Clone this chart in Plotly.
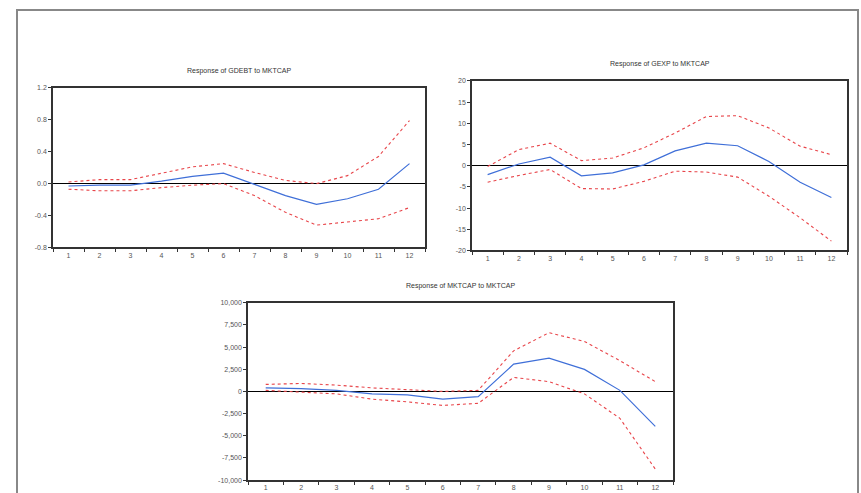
import plotly.graph_objects as go

periods = list(range(1, 13))

# Response of GDEBT to MKTCAP
gdebt_resp = [-0.03, -0.02, -0.02, 0.03, 0.09, 0.13, -0.01, -0.15, -0.26, -0.19, -0.07, 0.25]
gdebt_upper = [0.02, 0.05, 0.05, 0.13, 0.21, 0.25, 0.14, 0.04, 0.0, 0.10, 0.34, 0.79]
gdebt_lower = [-0.07, -0.09, -0.09, -0.05, -0.02, 0.0, -0.15, -0.36, -0.52, -0.48, -0.44, -0.30]

# Response of GEXP to MKTCAP
gexp_resp = [-2.1, 0.4, 2.0, -2.4, -1.7, 0.2, 3.5, 5.3, 4.7, 1.0, -3.9, -7.5]
gexp_upper = [-0.2, 3.8, 5.3, 1.2, 1.8, 4.2, 7.7, 11.6, 11.8, 8.9, 4.6, 2.6]
gexp_lower = [-3.9, -2.3, -0.9, -5.4, -5.5, -3.7, -1.3, -1.5, -2.7, -7.2, -12.3, -17.8]

# Response of MKTCAP to MKTCAP
mkt_resp = [400, 320, 120, -280, -400, -870, -590, 3070, 3740, 2480, 120, -3940]
mkt_upper = [790, 900, 710, 400, 200, 0, 120, 4570, 6620, 5630, 3470, 1100]
mkt_lower = [120, -80, -280, -870, -1180, -1580, -1340, 1580, 1100, -280, -3030, -8750]

titles = ["Response of GDEBT to MKTCAP", "Response of GEXP to MKTCAP", "Response of MKTCAP to MKTCAP"]

gdebt_ticks = [-0.8, -0.4, 0.0, 0.4, 0.8, 1.2]
gdebt_ticktext = ["-0.8", "-0.4", "0.0", "0.4", "0.8", "1.2"]
gexp_ticks = [-20, -15, -10, -5, 0, 5, 10, 15, 20]
gexp_ticktext = ["-20", "-15", "-10", "-5", "0", "5", "10", "15", "20"]
mkt_ticks = [-10000, -7500, -5000, -2500, 0, 2500, 5000, 7500, 10000]
mkt_ticktext = ["-10,000", "-7,500", "-5,000", "-2,500", "0", "2,500", "5,000", "7,500", "10,000"]

W, H = 861, 493
BLUE = "#3f6fd8"
RED = "#e8454a"

panels = [
    dict(resp=gdebt_resp, up=gdebt_upper, lo=gdebt_lower, ticks=gdebt_ticks, ttext=gdebt_ticktext,
         rng=[-0.8, 1.2], box=(53, 425, 85, 247), title=titles[0]),
    dict(resp=gexp_resp, up=gexp_upper, lo=gexp_lower, ticks=gexp_ticks, ttext=gexp_ticktext,
         rng=[-20, 20], box=(472, 847, 78, 250), title=titles[1]),
    dict(resp=mkt_resp, up=mkt_upper, lo=mkt_lower, ticks=mkt_ticks, ttext=mkt_ticktext,
         rng=[-10000, 10000], box=(248, 673, 303, 483), title=titles[2]),
]

fig = go.Figure()
layout = dict(
    width=W, height=H,
    margin=dict(l=0, r=0, t=0, b=0),
    paper_bgcolor="white", plot_bgcolor="white",
    showlegend=False,
    font=dict(family="Liberation Sans, Arial, sans-serif", size=7, color="#444"),
    annotations=[], shapes=[],
)

for i, p in enumerate(panels, start=1):
    xa = "x" if i == 1 else f"x{i}"
    ya = "y" if i == 1 else f"y{i}"
    for series, color, dash, width in [(p["up"], RED, "dot", 1.1), (p["lo"], RED, "dot", 1.1),
                                       (p["resp"], BLUE, "solid", 1.2)]:
        fig.add_trace(go.Scatter(x=periods, y=series, mode="lines", xaxis=xa, yaxis=ya,
                                 line=dict(color=color, dash=dash, width=width), hoverinfo="skip"))
    x0, x1, yt, yb = p["box"]
    key = "" if i == 1 else str(i)
    layout["xaxis" + key] = dict(
        domain=[x0 / W, x1 / W], anchor=ya, range=[0.5, 12.5],
        tickvals=periods, ticktext=[str(v) for v in periods], ticks="",
        minor=dict(tick0=0.5, dtick=1, ticks="outside", ticklen=3, tickcolor="#333"),
        showgrid=False, zeroline=False, showline=True, linecolor="#333", linewidth=1.5, mirror=True,
        tickfont=dict(size=7, color="#555"), fixedrange=True,
    )
    layout["yaxis" + key] = dict(
        domain=[1 - yb / H, 1 - yt / H], anchor=xa, range=p["rng"],
        tickvals=p["ticks"], ticktext=p["ttext"], ticks="outside", ticklen=3, tickcolor="#333",
        showgrid=False, zeroline=True, zerolinecolor="black", zerolinewidth=1.3,
        showline=True, linecolor="#333", linewidth=1.5, mirror=True,
        tickfont=dict(size=7, color="#555"), fixedrange=True,
    )
    layout["annotations"].append(dict(
        text=p["title"], xref="paper", yref="paper", x=(x0 + x1) / 2 / W, y=1 - (yt - 17) / H,
        showarrow=False, xanchor="center", yanchor="middle", font=dict(size=7, color="#333"),
    ))

layout["shapes"].append(dict(type="rect", xref="paper", yref="paper",
                             x0=17 / W, x1=858 / W, y0=-0.05, y1=1 - 6 / H,
                             line=dict(color="#888", width=2), layer="below"))

fig.update_layout(**layout)
fig.write_html("out.html", config={"displayModeBar": False},
               post_script="document.body.style.margin='0';document.body.style.overflow='hidden';")
